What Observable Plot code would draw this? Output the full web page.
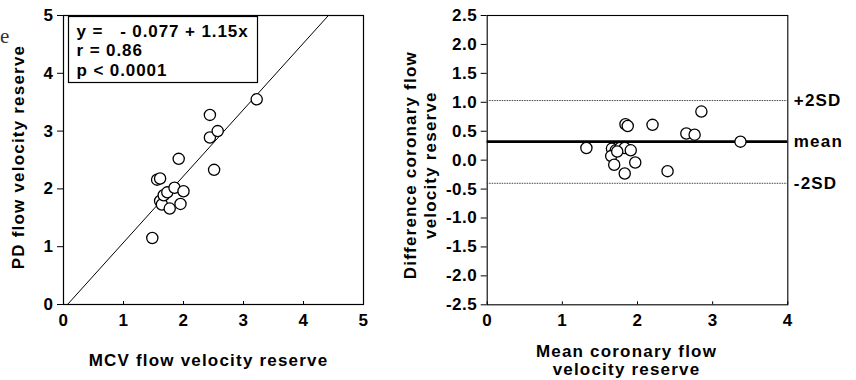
<!DOCTYPE html>
<html>
<head>
<meta charset="utf-8">
<script src="https://cdn.jsdelivr.net/npm/d3@7"></script>
<script src="https://cdn.jsdelivr.net/npm/@observablehq/plot@0.6"></script>
<style>
  html, body { margin: 0; padding: 0; background: #fff; }
  #wrap { position: relative; width: 856px; height: 380px; overflow: hidden; }
  #left { position: absolute; left: 0; top: 0; }
  #right { position: absolute; left: 400px; top: 0; }
  #stray { position: absolute; left: 0px; top: 24px; font-family: "Liberation Serif", serif; font-size: 21px; color: #333; }
  svg text { letter-spacing: 0.5px; }
  svg g[aria-label="text"] text { letter-spacing: 1.2px; }
  svg g[aria-label="text"].stat text { letter-spacing: 0.9px; }
</style>
</head>
<body>
<div id="wrap">
  <div id="left"></div>
  <div id="right"></div>
  <span id="stray">e</span>
</div>
<script>
// ---- Left panel: PD vs MCV flow velocity reserve ----
const mcv = [1.48, 1.56, 1.61, 1.61, 1.64, 1.67, 1.73, 1.77, 1.85, 1.95, 2.00, 1.92, 2.44, 2.44, 2.57, 2.51, 3.22];
const pd  = [1.15, 2.16, 2.18, 1.79, 1.73, 1.89, 1.94, 1.66, 2.02, 1.74, 1.96, 2.52, 3.28, 2.89, 3.00, 2.33, 3.55];
const leftTicks = [0, 1, 2, 3, 4, 5];
const regIntercept = -0.077;
const regSlope = 1.15;
const statLines = ["y =   - 0.077 + 1.15x", "r = 0.86", "p < 0.0001"];

// ---- Right panel: Bland-Altman ----
const meanCFR = [1.32, 1.66, 1.71, 1.65, 1.69, 1.77, 1.83, 1.91, 1.83, 1.97, 1.84, 1.87, 2.20, 2.40, 2.65, 2.76, 2.85, 3.37, 1.73];
const diffCFR = [0.21, 0.20, 0.17, 0.07, -0.08, 0.21, 0.21, 0.17, -0.23, -0.04, 0.62, 0.59, 0.61, -0.19, 0.46, 0.44, 0.84, 0.32, 0.15];
const rightXTicks = [0, 1, 2, 3, 4];
const rightYTicks = [-2.5, -2.0, -1.5, -1.0, -0.5, 0.0, 0.5, 1.0, 1.5, 2.0, 2.5];
const meanDiff = 0.32;
const upperSD = 1.03;
const lowerSD = -0.40;
const sdLabels = ["+2SD", "mean", "-2SD"];
const sdValues = [upperSD, meanDiff, lowerSD];

const font = '"Liberation Sans", Arial, Helvetica, sans-serif';
const style = { fontFamily: font, fontSize: "17px", fontWeight: "bold", color: "#000", background: "#fff", overflow: "visible" };

const leftData = mcv.map((x, i) => ({ x, y: pd[i] }));
// regression line endpoints within the 0..5 frame
const regLine = [
  { x: (0 - regIntercept) / regSlope, y: 0 },
  { x: (5 - regIntercept) / regSlope, y: 5 }
];

const left = Plot.plot({
  width: 400, height: 380,
  marginLeft: 63, marginRight: 37, marginTop: 15, marginBottom: 76,
  style,
  x: { domain: [0, 5], ticks: leftTicks, tickFormat: d => String(d), tickSize: -3, tickPadding: 12, label: null },
  y: { domain: [0, 5], ticks: leftTicks, tickFormat: d => String(d), tickSize: 6, tickPadding: 4, label: null },
  marks: [
    Plot.frame({ stroke: "#000", strokeWidth: 1.2 }),
    Plot.line(regLine, { x: "x", y: "y", stroke: "#000", strokeWidth: 1 }),
    Plot.frame({ stroke: "#000", strokeWidth: 1.2, fill: "none", insetLeft: 5, insetTop: 1, insetRight: 106, insetBottom: 222 }),
    Plot.text([statLines.join("\n")], { frameAnchor: "top-left", dx: 13, dy: 8, textAnchor: "start", lineAnchor: "top", lineHeight: 1.13, fontSize: 17, className: "stat" }),
    Plot.dot(leftData, { x: "x", y: "y", r: 5.6, stroke: "#000", strokeWidth: 1.3, fill: "#fff" }),
    Plot.text(["PD flow velocity reserve"], { frameAnchor: "left", textAnchor: "middle", lineAnchor: "middle", dx: -45, dy: -3, rotate: -90, fontSize: 17 }),
    Plot.text(["MCV flow velocity reserve"], { frameAnchor: "bottom", textAnchor: "middle", lineAnchor: "middle", dy: 56, dx: -5, fontSize: 17 })
  ]
});
document.getElementById("left").appendChild(left);

const rightData = meanCFR.map((x, i) => ({ x, y: diffCFR[i] }));
const sdData = sdLabels.map((label, i) => ({ label, value: sdValues[i] }));

const right = Plot.plot({
  width: 456, height: 380,
  marginLeft: 86.7, marginRight: 68.7, marginTop: 15, marginBottom: 75.7,
  style,
  x: { domain: [0, 4], ticks: rightXTicks, tickFormat: d => String(d), tickSize: -3, tickPadding: 12, label: null },
  y: { domain: [-2.5, 2.5], ticks: rightYTicks, tickFormat: d => d.toFixed(1), tickSize: 6, tickPadding: 4, label: null },
  marks: [
    Plot.frame({ stroke: "#000", strokeWidth: 1.1 }),
    Plot.ruleY([upperSD, lowerSD], { stroke: "#444", strokeWidth: 1, strokeDasharray: "1.5,1" }),
    Plot.ruleY([meanDiff], { stroke: "#000", strokeWidth: 2.6 }),
    Plot.dot(rightData, { x: "x", y: "y", r: 5.6, stroke: "#000", strokeWidth: 1.3, fill: "#fff" }),
    Plot.text(sdData, { y: "value", text: "label", frameAnchor: "right", textAnchor: "start", dx: 6, fontSize: 17 }),
    Plot.text(["Difference coronary flow\nvelocity reserve"], { frameAnchor: "left", textAnchor: "middle", lineAnchor: "middle", dx: -68, dy: 5, rotate: -90, lineHeight: 1.2, fontSize: 17 }),
    Plot.text(["Mean coronary flow\nvelocity reserve"], { frameAnchor: "bottom", textAnchor: "middle", lineAnchor: "middle", dy: 55, dx: -11, lineHeight: 1.08, fontSize: 17 })
  ]
});
document.getElementById("right").appendChild(right);
</script>
</body>
</html>
